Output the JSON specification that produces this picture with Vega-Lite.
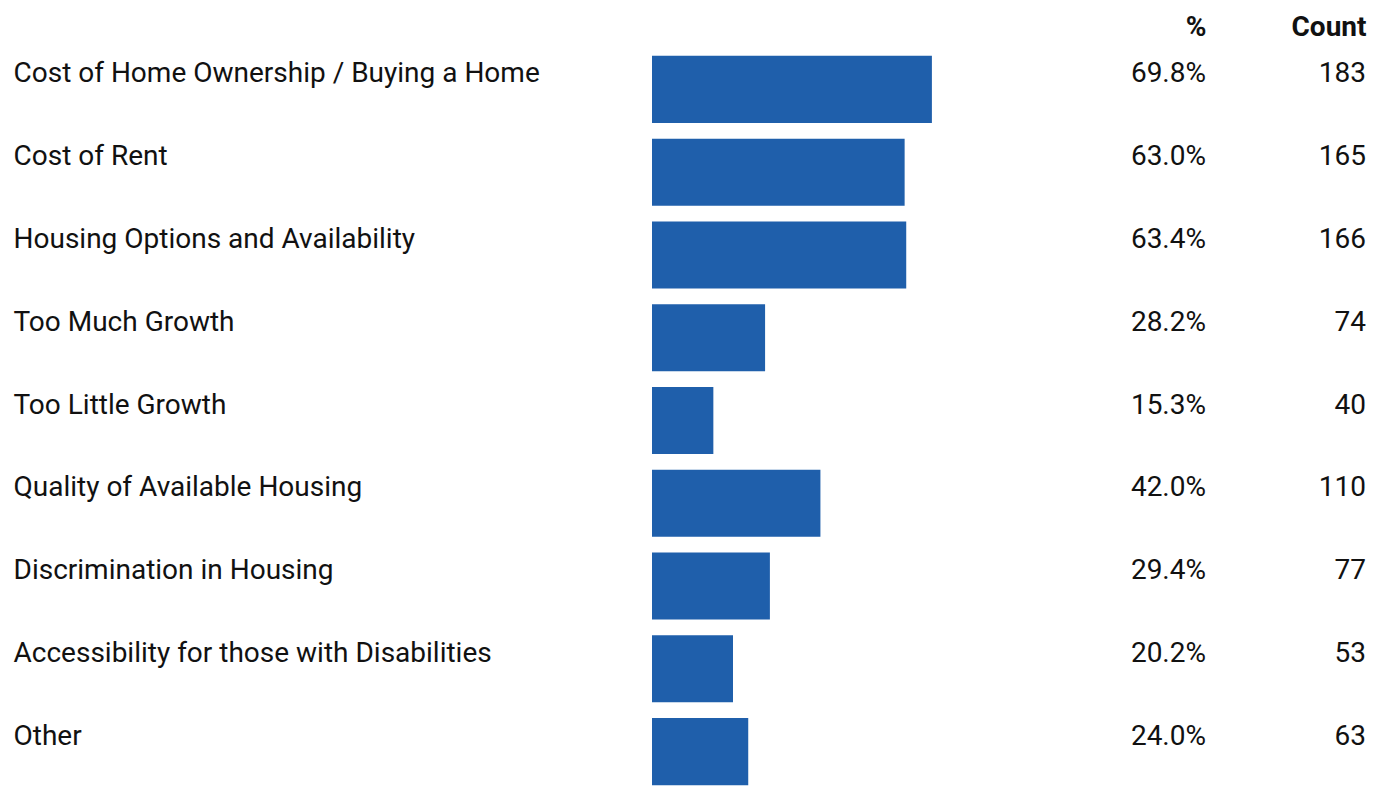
{
  "$schema": "https://vega.github.io/schema/vega-lite/v6.json",
  "width": 1378,
  "height": 792,
  "autosize": "none",
  "padding": 0,
  "background": "white",
  "config": {"view": {"stroke": null}, "font": "Roboto"},
  "data": {"values": [
    {"label": "Cost of Home Ownership / Buying a Home", "pct": 0.698, "count": 183},
    {"label": "Cost of Rent", "pct": 0.630, "count": 165},
    {"label": "Housing Options and Availability", "pct": 0.634, "count": 166},
    {"label": "Too Much Growth", "pct": 0.282, "count": 74},
    {"label": "Too Little Growth", "pct": 0.153, "count": 40},
    {"label": "Quality of Available Housing", "pct": 0.420, "count": 110},
    {"label": "Discrimination in Housing", "pct": 0.294, "count": 77},
    {"label": "Accessibility for those with Disabilities", "pct": 0.202, "count": 53},
    {"label": "Other", "pct": 0.240, "count": 63}
  ]},
  "encoding": {
    "y": {
      "field": "label", "type": "nominal", "sort": null,
      "scale": {"range": [48, 793], "paddingInner": 0.19, "paddingOuter": 0.095},
      "axis": {"title": null, "orient": "left", "domain": false, "ticks": false, "tickSize": 0,
        "labelAlign": "left", "labelPadding": -13, "labelOffset": -15, "labelFontSize": 28,
        "labelColor": "#111111", "labelLimit": 700, "labelFont": "Roboto"}
    }
  },
  "layer": [
    {
      "mark": {"type": "bar", "color": "#1f5fab"},
      "encoding": {
        "x": {"field": "pct", "type": "quantitative", "scale": {"domain": [0, 1], "range": [652, 1053]}, "axis": null}
      }
    },
    {
      "encoding": {
        "x": {"type": "nominal", "scale": {"type": "point", "domain": ["%", "Count"], "range": [1206, 1366], "padding": 0},
          "axis": {"title": null, "orient": "top", "domain": false, "ticks": false, "tickSize": 0, "offset": -35, "labelPadding": 0,
            "labelAngle": 0, "labelBaseline": "alphabetic",
            "labelAlign": "right", "labelFontWeight": "bold", "labelFontSize": 28, "labelColor": "#111111", "labelFont": "Roboto"}}
      },
      "layer": [
        {
          "mark": {"type": "text", "align": "right", "baseline": "middle", "dy": -15, "fontSize": 28, "color": "#111111"},
          "encoding": {
            "x": {"datum": "%", "type": "nominal"},
            "text": {"field": "pct", "type": "quantitative", "format": ".1%"}
          }
        },
        {
          "mark": {"type": "text", "align": "right", "baseline": "middle", "dy": -15, "fontSize": 28, "color": "#111111"},
          "encoding": {
            "x": {"datum": "Count", "type": "nominal"},
            "text": {"field": "count", "type": "quantitative", "format": "d"}
          }
        }
      ]
    }
  ],
  "resolve": {"scale": {"x": "independent"}, "axis": {"x": "independent"}}
}
